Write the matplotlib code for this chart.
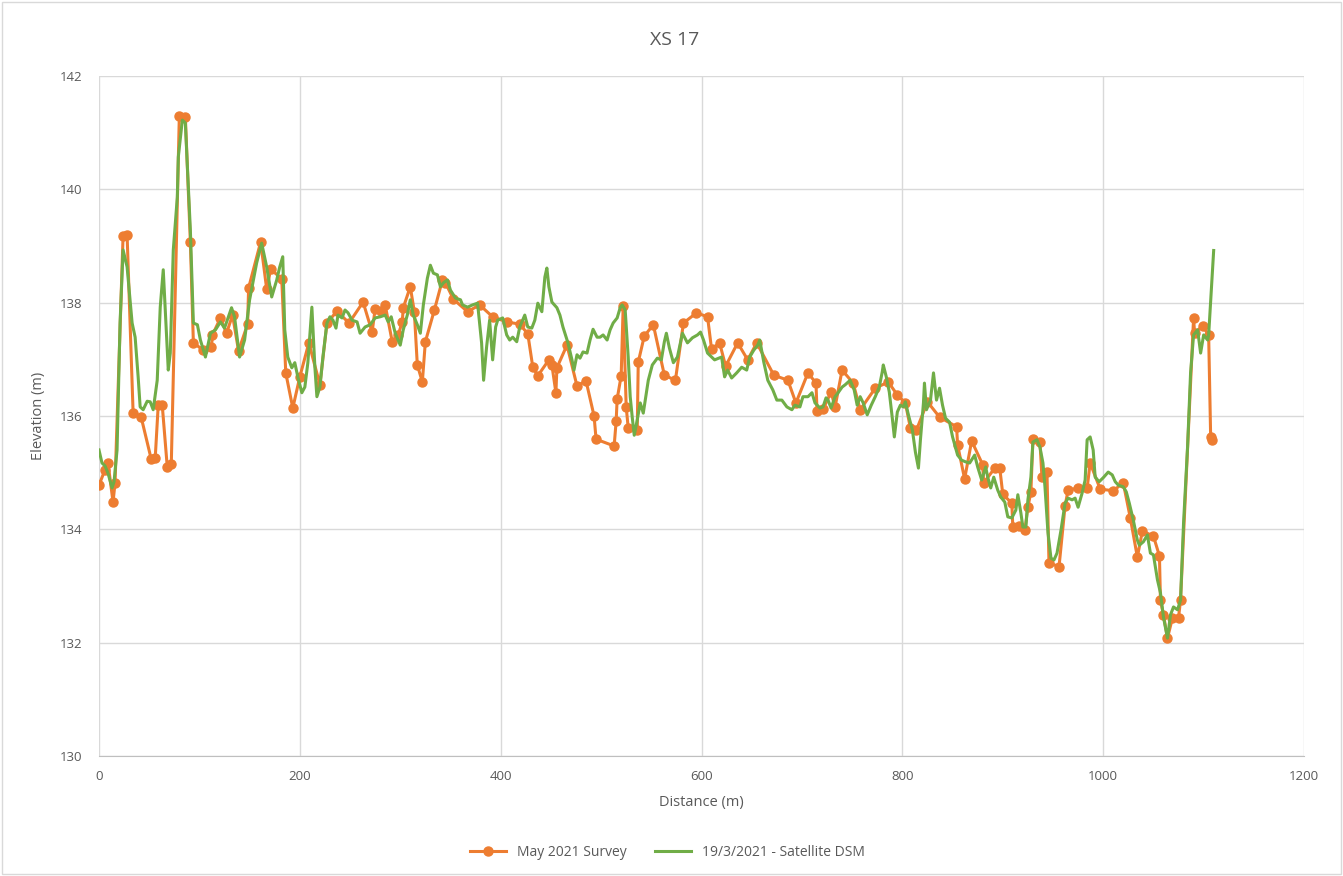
import matplotlib
matplotlib.use("Agg")
import matplotlib.pyplot as plt
from matplotlib.patches import Rectangle

# May 2021 ground survey (distance m, elevation m)
survey_dist = [0, 6, 9, 14, 16, 24, 28, 34, 42, 52, 56, 59, 63, 68, 72, 80, 86, 91, 94,
               104, 112, 113, 121, 127, 133, 139, 148, 149, 161, 167, 171, 182, 186, 193,
               200, 209, 220, 227, 237, 249, 263, 272, 275, 281, 285, 292, 298, 302, 303,
               310, 314, 317, 322, 325, 334, 342, 345, 353, 367, 379, 392, 406, 419, 427,
               432, 437, 448, 451, 455, 456, 466, 476, 485, 493, 495, 513, 515, 516, 520,
               522, 525, 527, 536, 537, 543, 552, 563, 574, 582, 595, 606, 610, 618, 624,
               636, 646, 655, 672, 686, 694, 706, 714, 715, 721, 729, 733, 740, 751, 758,
               773, 786, 795, 803, 808, 814, 825, 837, 854, 855, 862, 869, 880, 881, 892,
               897, 900, 909, 910, 916, 922, 925, 928, 930, 937, 939, 944, 946, 956, 962,
               965, 975, 984, 987, 997, 1010, 1020, 1027, 1034, 1039, 1050, 1056, 1057,
               1060, 1064, 1069, 1075, 1077, 1090, 1091, 1099, 1105, 1107, 1108]
survey_elev = [134.78, 135.05, 135.17, 134.48, 134.82, 139.18, 139.19, 136.05, 135.98, 135.24,
               135.26, 136.19, 136.19, 135.10, 135.15, 141.29, 141.28, 139.07, 137.29,
               137.16, 137.22, 137.43, 137.73, 137.46, 137.78, 137.15, 137.62, 138.26, 139.07,
               138.24, 138.59, 138.42, 136.76, 136.14, 136.69, 137.29, 136.55, 137.64, 137.85,
               137.64, 138.01, 137.48, 137.89, 137.85, 137.96, 137.31, 137.43, 137.66, 137.91,
               138.28, 137.84, 136.90, 136.60, 137.31, 137.87, 138.40, 138.35, 138.06, 137.84,
               137.96, 137.75, 137.66, 137.62, 137.45, 136.86, 136.71, 136.99, 136.90, 136.41,
               136.85, 137.25, 136.53, 136.62, 136.00, 135.59, 135.47, 135.91, 136.30, 136.71,
               137.94, 136.16, 135.79, 135.75, 136.95, 137.41, 137.61, 136.72, 136.63, 137.64,
               137.82, 137.75, 137.18, 137.29, 136.88, 137.29, 136.99, 137.29, 136.72, 136.63,
               136.23, 136.76, 136.58, 136.09, 136.12, 136.42, 136.16, 136.81, 136.58, 136.11,
               136.49, 136.60, 136.37, 136.23, 135.79, 135.75, 136.25, 135.98, 135.81, 135.49,
               134.89, 135.56, 135.14, 134.82, 135.08, 135.08, 134.62, 134.46, 134.04, 134.06,
               133.99, 134.39, 134.66, 135.59, 135.54, 134.92, 135.01, 133.41, 133.34, 134.41,
               134.69, 134.73, 134.73, 135.17, 134.71, 134.68, 134.82, 134.20, 133.51, 133.97,
               133.88, 133.53, 132.75, 132.49, 132.08, 132.44, 132.44, 132.75, 137.73, 137.46,
               137.59, 137.43, 135.63, 135.58]

# 19/3/2021 satellite DSM profile (distance m, elevation m)
dsm_dist = [0, 3, 6, 9, 13, 15, 18, 21, 24, 28, 33, 36, 39, 41, 44, 48, 51, 54, 58, 61,
            64, 69, 71, 74, 78, 79, 83, 86, 91, 94, 98, 101, 106, 111, 116, 121, 125, 132,
            135, 140, 145, 150, 157, 162, 167, 172, 177, 180, 183, 185, 188, 192, 195, 198,
            202, 205, 208, 212, 215, 217, 220, 223, 227, 230, 233, 236, 238, 242, 245, 248,
            252, 257, 260, 265, 270, 275, 280, 285, 288, 291, 295, 300, 303, 307, 310, 313,
            317, 320, 323, 327, 330, 333, 337, 340, 343, 347, 350, 355, 360, 362, 367, 372,
            377, 381, 383, 386, 389, 392, 395, 397, 402, 406, 409, 412, 416, 419, 424, 427,
            431, 434, 437, 441, 444, 446, 448, 451, 456, 459, 462, 464, 467, 471, 473, 476,
            479, 482, 486, 489, 492, 496, 499, 502, 506, 509, 512, 516, 519, 521, 524, 527,
            529, 531, 533, 536, 539, 542, 547, 551, 556, 560, 563, 565, 568, 572, 576, 581,
            586, 591, 596, 599, 602, 606, 613, 620, 623, 626, 630, 635, 640, 645, 648, 652,
            656, 658, 662, 666, 671, 675, 680, 685, 690, 693, 698, 701, 706, 710, 713, 718,
            721, 724, 726, 729, 733, 736, 740, 743, 748, 752, 755, 758, 761, 765, 769, 773,
            777, 780, 781, 784, 787, 790, 792, 795, 798, 801, 803, 806, 810, 813, 816, 818,
            821, 822, 824, 828, 831, 834, 837, 840, 843, 847, 850, 855, 859, 863, 867, 872,
            875, 879, 883, 885, 888, 891, 895, 898, 902, 905, 909, 913, 915, 918, 920, 923,
            925, 928, 930, 934, 937, 940, 942, 945, 948, 951, 954, 958, 962, 965, 969, 972,
            975, 979, 982, 984, 987, 990, 992, 996, 1000, 1005, 1009, 1012, 1015, 1020, 1023,
            1026, 1030, 1034, 1036, 1040, 1044, 1047, 1050, 1054, 1057, 1060, 1064, 1067,
            1070, 1074, 1077, 1080, 1084, 1087, 1090, 1094, 1097, 1100, 1104, 1105, 1110]
dsm_elev = [135.40, 135.17, 135.12, 134.99, 134.73, 134.84, 135.40, 137.64, 138.93, 138.63,
            137.64, 137.39, 136.69, 136.16, 136.11, 136.26, 136.25, 136.11, 136.63, 137.92,
            138.58, 136.81, 137.11, 138.93, 139.86, 140.57, 141.22, 141.17, 139.28, 137.64,
            137.61, 137.34, 137.04, 137.46, 137.52, 137.66, 137.55, 137.91, 137.75, 137.04,
            137.34, 138.05, 138.70, 139.05, 138.63, 138.10, 138.40, 138.63, 138.81, 137.52,
            137.04, 136.85, 136.94, 136.69, 136.41, 136.51, 136.94, 137.92, 136.86, 136.34,
            136.51, 137.04, 137.64, 137.75, 137.69, 137.55, 137.78, 137.73, 137.87, 137.82,
            137.69, 137.66, 137.46, 137.57, 137.61, 137.73, 137.75, 137.78, 137.66, 137.75,
            137.46, 137.25, 137.52, 137.78, 138.05, 137.78, 137.61, 137.46, 137.96, 138.43,
            138.66, 138.52, 138.49, 138.28, 138.35, 138.40, 138.22, 138.08, 138.05, 137.96,
            137.92, 137.96, 137.99, 137.29, 136.63, 137.22, 137.69, 136.99, 137.57, 137.69,
            137.73, 137.43, 137.34, 137.39, 137.31, 137.57, 137.78, 137.57, 137.55, 137.69,
            137.99, 137.84, 138.45, 138.61, 138.28, 138.01, 137.91, 137.78, 137.57, 137.46,
            137.29, 136.99, 136.81, 137.08, 137.02, 137.13, 137.11, 137.34, 137.53, 137.39,
            137.39, 137.43, 137.34, 137.52, 137.64, 137.73, 137.91, 137.96, 137.87, 137.04,
            136.34, 135.98, 135.66, 135.93, 136.23, 136.05, 136.63, 136.90, 137.02, 136.99,
            137.31, 137.46, 137.20, 136.94, 137.04, 137.46, 137.29, 137.38, 137.43, 137.48,
            137.34, 137.11, 136.99, 137.04, 136.69, 136.81, 136.67, 136.76, 136.86, 136.81,
            137.04, 137.16, 137.25, 137.34, 136.95, 136.63, 136.46, 136.28, 136.28, 136.16,
            136.11, 136.19, 136.16, 136.34, 136.34, 136.41, 136.23, 136.14, 136.16, 136.32,
            136.28, 136.14, 136.34, 136.41, 136.51, 136.55, 136.63, 136.46, 136.19, 136.34,
            136.23, 136.02, 136.19, 136.34, 136.51, 136.78, 136.90, 136.69, 136.42, 135.96,
            135.63, 136.07, 136.19, 136.16, 136.25, 136.02, 135.75, 135.36, 135.08, 135.58,
            136.23, 136.58, 136.11, 136.28, 136.76, 136.28, 136.49, 136.19, 135.96, 135.89,
            135.63, 135.31, 135.22, 135.19, 135.17, 135.31, 135.10, 134.87, 135.10, 134.92,
            134.73, 134.92, 134.69, 134.57, 134.48, 134.22, 134.20, 134.34, 134.61, 134.29,
            134.04, 134.04, 134.52, 134.92, 135.54, 135.58, 135.45, 135.17, 134.75, 133.94,
            133.49, 133.46, 133.58, 133.99, 134.46, 134.55, 134.52, 134.55, 134.39, 134.64,
            134.87, 135.58, 135.63, 135.40, 134.92, 134.84, 134.91, 135.01, 134.96, 134.84,
            134.78, 134.75, 134.66, 134.46, 134.16, 133.81, 133.72, 133.78, 133.90, 133.58,
            133.55, 133.11, 132.88, 132.45, 132.08, 132.49, 132.63, 132.58, 132.75, 134.11,
            135.45, 136.76, 137.43, 137.52, 137.11, 137.43, 137.34, 137.43, 138.92]

x_ticks = [0, 200, 400, 600, 800, 1000, 1200]
y_ticks = [130, 132, 134, 136, 138, 140, 142]

ORANGE = "#ED7D31"
GREEN = "#70AD47"
TEXT = "#595959"
GRID = "#D9D9D9"

plt.rcParams["font.family"] = ["Open Sans", "DejaVu Sans"]

fig = plt.figure(figsize=(13.43, 8.76), dpi=100)
ax = fig.add_axes([0.0737, 0.1370, 0.8973, 0.7763])

ax.plot(survey_dist, survey_elev, color=ORANGE, lw=2.2, marker="o", markersize=6.5,
        markeredgecolor=ORANGE, markerfacecolor=ORANGE, label="May 2021 Survey", zorder=3)
ax.plot(dsm_dist, dsm_elev, color=GREEN, lw=2.2, label="19/3/2021 - Satellite DSM", zorder=4)

ax.set_xlim(0, 1200)
ax.set_ylim(130, 142)
ax.set_xticks(x_ticks)
ax.set_yticks(y_ticks)
ax.grid(True, color=GRID, lw=1.0, zorder=0)
ax.set_axisbelow(True)
for side in ("top", "right", "left"):
    ax.spines[side].set_visible(False)
ax.spines["bottom"].set_color("#BFBFBF")
ax.tick_params(axis="both", length=0, colors=TEXT, labelsize=9.5)
ax.tick_params(axis="y", pad=12)
ax.tick_params(axis="x", pad=10)

ax.set_xlabel("Distance (m)", color=TEXT, fontsize=10.5, labelpad=9)
ax.set_ylabel("Elevation (m)", color=TEXT, fontsize=10.5, labelpad=10)
fig.text(0.5026, 0.954, "XS 17", ha="center", va="center", color=TEXT, fontsize=14)

leg = fig.legend(loc="center", bbox_to_anchor=(0.497, 0.027), ncol=2, frameon=False,
                 fontsize=10, handlelength=2.6, columnspacing=2.0)
for t in leg.get_texts():
    t.set_color(TEXT)

# light chart-area border
fig.patches.append(Rectangle((0.0015, 0.002), 0.997, 0.996, transform=fig.transFigure,
                             fill=False, edgecolor="#D9D9D9", lw=1.0))

fig.savefig("out.png", dpi=100, facecolor="white")
